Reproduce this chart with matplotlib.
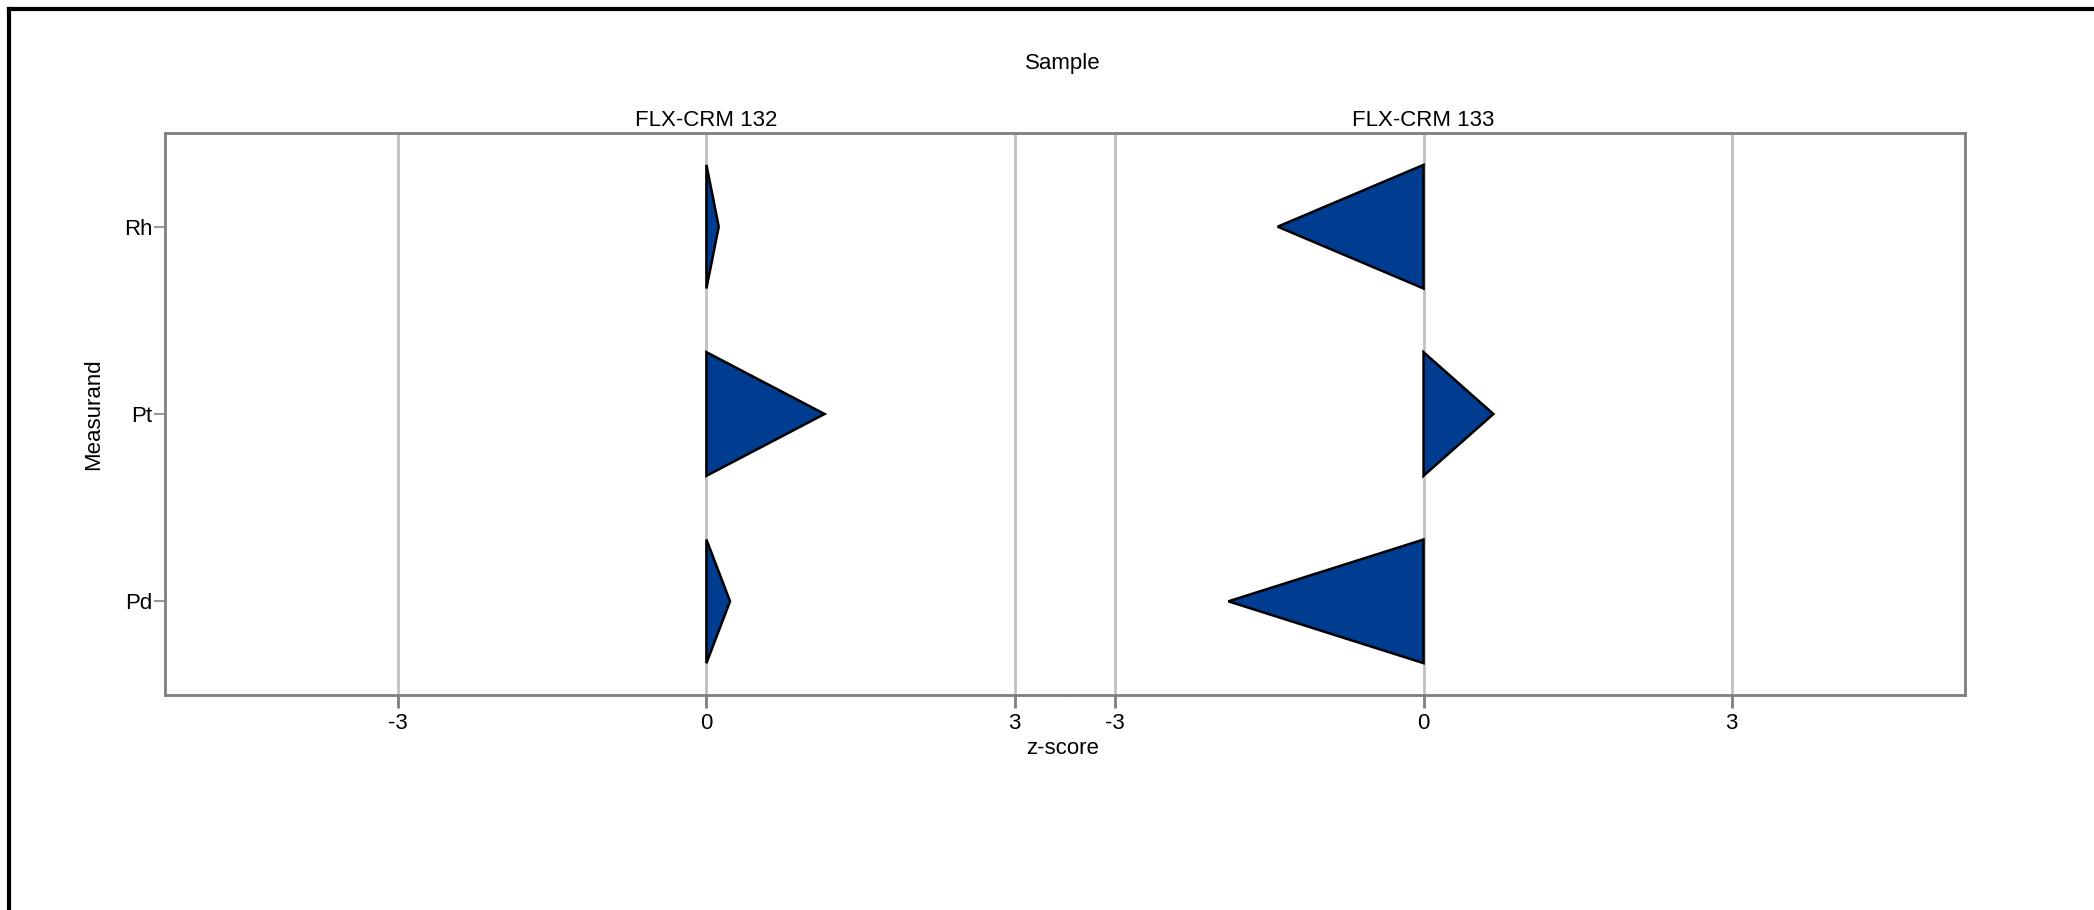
import matplotlib
matplotlib.use("Agg")
import matplotlib.pyplot as plt
from matplotlib.lines import Line2D

plt.rcParams['font.family'] = ['Liberation Sans', 'DejaVu Sans']

# data
samples = ["FLX-CRM 132", "FLX-CRM 133"]
measurands = ["Pd", "Pt", "Rh"]
z_132 = [0.23, 1.15, 0.12]
z_133 = [-1.90, 0.68, -1.42]
ticks = [-3, 0, 3]
xlims = [(-5.27, 3.49), (-3.49, 5.27)]

fill_col = "#003c8f"
frame_col = "#7f7f7f"
grid_col = "#c0c0c0"
half_h = 0.33
fs = 16

fig = plt.figure(figsize=(20.94, 9.10), dpi=100)
left, right, bottom, top = 165 / 2094, 1965 / 2094, 1 - 695 / 910, 1 - 133 / 910
mid = (left + right) / 2
ax1 = fig.add_axes([left, bottom, mid - left, top - bottom])
ax2 = fig.add_axes([mid, bottom, right - mid, top - bottom])

for ax, vals, lim, name in zip([ax1, ax2], [z_132, z_133], xlims, samples):
    ax.set_xlim(*lim)
    ax.set_ylim(-0.5, 2.5)
    ax.set_xticks(ticks)
    ax.set_xticklabels([str(t) for t in ticks])
    for t in ticks:
        ax.axvline(t, color=grid_col, lw=2, zorder=0)
    for i, v in enumerate(vals):
        ax.fill([0, 0, v], [i - half_h, i + half_h, i], facecolor=fill_col,
                edgecolor="black", lw=1.8, zorder=3, joinstyle="miter")
    ax.text(0, 1.003, name, transform=ax.get_xaxis_transform(),
            ha="center", va="bottom", fontsize=fs)
    ax.tick_params(axis="x", length=9, width=2, color=frame_col,
                   labelsize=fs, pad=4)
    for s in ax.spines.values():
        s.set_color(frame_col)
        s.set_linewidth(2)

ax1.spines["right"].set_visible(False)
ax2.spines["left"].set_visible(False)
ax1.set_yticks(range(len(measurands)))
ax1.set_yticklabels(measurands)
ax1.tick_params(axis="y", length=8, width=1.5, color="#999999", labelsize=fs, pad=1)
ax2.set_yticks([])

ax1.set_ylabel("Measurand", fontsize=fs, labelpad=14)
fig.text(1063 / 2094, 1 - 64 / 910, "Sample", ha="center", va="center", fontsize=fs)
fig.text(1063 / 2094, 1 - 748 / 910, "z-score", ha="center", va="center", fontsize=fs)

# outer border (runs off the right and bottom of the image)
fig.add_artist(Line2D([9 / 2094, 1.01], [1 - 9 / 910, 1 - 9 / 910],
                      color="black", lw=3, transform=fig.transFigure))
fig.add_artist(Line2D([9 / 2094, 9 / 2094], [1 - 9 / 910, -0.01],
                      color="black", lw=3, transform=fig.transFigure))

fig.savefig("out.png", dpi=100, facecolor="white")
